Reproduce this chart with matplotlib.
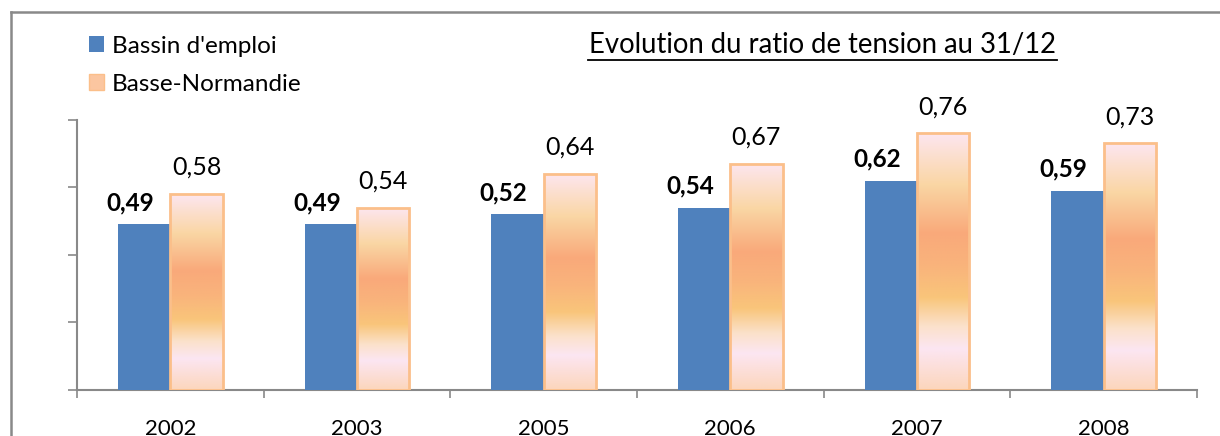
import numpy as np
import matplotlib
matplotlib.use("Agg")
import matplotlib.pyplot as plt
from matplotlib.colors import LinearSegmentedColormap
from matplotlib.patches import Patch
from matplotlib.lines import Line2D

plt.rcParams['font.family'] = ['Lato', 'DejaVu Sans']

# data
years = ['2002', '2003', '2005', '2006', '2007', '2008']
bassin = [0.49, 0.49, 0.52, 0.54, 0.62, 0.59]
basse_normandie = [0.58, 0.54, 0.64, 0.67, 0.76, 0.73]
series_names = ["Bassin d'emploi", "Basse-Normandie"]
title = "Evolution du ratio de tension au 31/12"

blue = '#4f81bd'
orange_edge = '#fbbf8a'
grey = '#898989'
# vertical gradient of the orange bars, top -> bottom
grad = LinearSegmentedColormap.from_list('grad', [
    (0.00, '#fde6f0'), (0.20, '#fad6a4'), (0.39, '#f9a97a'),
    (0.52, '#f9b47c'), (0.64, '#f9c57a'), (0.75, '#fbe1ca'),
    (0.84, '#fce6f2'), (1.00, '#fcd6bc')])

fig = plt.figure(figsize=(12.2, 4.36), dpi=100)
ax = fig.add_axes([0.0631, 0.1055, 0.9180, 0.6200])

x = np.arange(len(years))
w = 0.28
b1 = ax.bar(x - w/2, bassin, w, color=blue, zorder=3)
b2 = ax.bar(x + w/2, basse_normandie, w, facecolor='none', edgecolor=orange_edge,
            linewidth=2, zorder=4)

g = np.linspace(0, 1, 256).reshape(-1, 1)
for p in b2:
    im = ax.imshow(g, cmap=grad, aspect='auto', zorder=3,
                   extent=[p.get_x(), p.get_x() + p.get_width(), 0, p.get_height()])
    im.set_clip_path(p)

ax.set_xlim(-0.5, len(years) - 0.5)
ax.set_ylim(0, 0.8)

for xi, v in zip(x, bassin):
    ax.annotate(f"{v:.2f}".replace('.', ','), (xi - w/2, v), xytext=(-14, 14),
                textcoords='offset pixels', ha='center', va='baseline',
                fontsize=17.5, fontweight='bold', color='black')
for xi, v in zip(x, basse_normandie):
    ax.annotate(f"{v:.2f}".replace('.', ','), (xi + w/2, v), xytext=(0, 19),
                textcoords='offset pixels', ha='center', va='baseline',
                fontsize=18, color='black')

ax.set_yticks([0, 0.2, 0.4, 0.6, 0.8])
ax.set_yticklabels([])
ax.tick_params(axis='y', direction='out', length=6.5, width=1.2, color=grey)
ax.set_xticks(np.arange(-0.5, len(years)), minor=True)
ax.set_xticks(x)
ax.set_xticklabels(years, fontsize=16)
ax.tick_params(axis='x', which='major', length=0, pad=21)
ax.tick_params(axis='x', which='minor', direction='out', length=6, width=1.2, color=grey)
for s in ['top', 'right']:
    ax.spines[s].set_visible(False)
for s in ['left', 'bottom']:
    ax.spines[s].set_color(grey)
    ax.spines[s].set_linewidth(1.5)

handles = [Patch(facecolor=blue), Patch(facecolor='#fbc6a0', edgecolor=orange_edge)]
fig.legend(handles, series_names, loc='upper left', bbox_to_anchor=(0.073, 0.918),
           frameon=False, fontsize=17.5, handlelength=0.62, handleheight=0.62,
           handletextpad=0.33, labelspacing=0.7, borderaxespad=0, borderpad=0)

fig.text(0.674, 0.897, title, ha='center', va='center', fontsize=19.8, color='black')
fig.add_artist(Line2D([0.482, 0.866], [0.862, 0.862], color='black', lw=1.3))

# outer frame (left and top)
fig.add_artist(Line2D([0.009, 0.009], [0, 0.972], color=grey, lw=1.8))
fig.add_artist(Line2D([0.009, 1.0], [0.972, 0.972], color=grey, lw=1.8))

fig.savefig('out.png', dpi=100)
